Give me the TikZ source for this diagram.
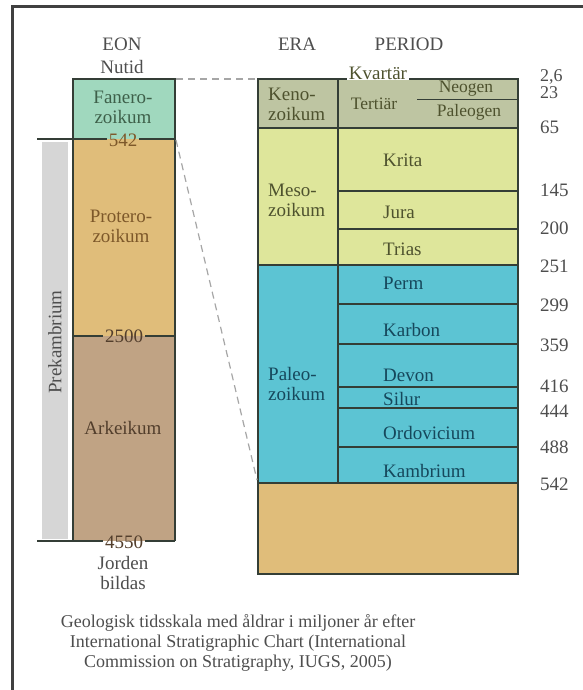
\documentclass[tikz,border=0pt]{standalone}
\usepackage{fontspec}
\setmainfont{Liberation Serif}
\definecolor{fanero}{RGB}{160,216,190}
\definecolor{protero}{RGB}{224,189,122}
\definecolor{arke}{RGB}{192,163,132}
\definecolor{graybar}{RGB}{214,214,214}
\definecolor{keno}{RGB}{190,197,162}
\definecolor{meso}{RGB}{222,230,155}
\definecolor{paleo}{RGB}{92,196,211}
\definecolor{bd}{RGB}{52,62,54}
\definecolor{txt}{RGB}{78,78,78}
\definecolor{tgreen}{RGB}{62,96,74}
\definecolor{tbrown}{RGB}{125,88,42}
\definecolor{tdbrown}{RGB}{82,62,44}
\definecolor{tolive}{RGB}{78,82,46}
\definecolor{tteal}{RGB}{22,72,92}
\definecolor{framec}{RGB}{64,64,64}
\begin{document}
\begin{tikzpicture}[x=1pt,y=-1pt,
  lbl/.style={font=\fontsize{19}{20}\selectfont, text=txt, inner sep=0pt, align=center},
  slbl/.style={font=\fontsize{17.5}{19}\selectfont, text=tolive, inner sep=0pt, align=center},
  num/.style={font=\fontsize{19}{20}\selectfont, text=txt, inner sep=0pt, anchor=west},
  edge/.style={draw=bd, line width=1.6pt},
  thinline/.style={draw=bd, line width=1.1pt},
  dashline/.style={draw=gray!70, line width=1.2pt, dash pattern=on 7pt off 5pt}]
\useasboundingbox (0,0) rectangle (583,690);
\fill[white] (0,0) rectangle (583,690);
% frame
\draw[framec, line width=3pt] (12,690) -- (12,7) -- (583,7);

% ---------- EON column ----------
\fill[fanero] (73,79) rectangle (175,139);
\fill[protero] (73,139) rectangle (175,336);
\fill[arke] (73,336) rectangle (175,541);
\fill[graybar] (42,142) rectangle (68,539);
\draw[edge] (73,541) -- (73,79) -- (175,79) -- (175,541);

\node[lbl] (eon) at (122,44) {EON};
\node[lbl] (nutid) at (122,67) {Nutid};
\node[lbl, text=tgreen] (fanero) at (123,107) {Fanero-\\zoikum};
\node[lbl, text=tbrown] (protero) at (121,226) {Protero-\\zoikum};
\node[lbl, text=tdbrown] (arkeikum) at (123,428) {Arkeikum};
\node[lbl, rotate=90] (prek) at (55,342) {Prekambrium};

\node[lbl, text=tbrown, inner xsep=2pt] (t542) at (123,140) {542};
\node[lbl, text=tdbrown, inner xsep=2pt] (t2500) at (124,336) {2500};
\node[lbl, text=tdbrown, inner xsep=2pt] (t4550) at (124,542) {4550};
\coordinate (l542a) at (37,139);  \coordinate (l542b) at (175,139);
\coordinate (l2500a) at (73,336); \coordinate (l2500b) at (175,336);
\coordinate (l4550a) at (37,541); \coordinate (l4550b) at (175,541);
\draw[edge] (l542a) -- (t542.west |- l542a) (t542.east |- l542b) -- (l542b);
\draw[edge] (l2500a) -- (t2500.west |- l2500a) (t2500.east |- l2500b) -- (l2500b);
\draw[edge] (l4550a) -- (t4550.west |- l4550a) (t4550.east |- l4550b) -- (l4550b);
\node[lbl] (jorden) at (123,573) {Jorden\\bildas};

% ---------- ERA / PERIOD column ----------
\fill[keno] (258,79) rectangle (518,128);
\fill[meso] (258,128) rectangle (518,265);
\fill[paleo] (258,265) rectangle (518,483);
\fill[protero] (258,483) rectangle (518,574);
\draw[edge] (258,79) rectangle (518,574);
\draw[edge] (258,128) -- (518,128);
\draw[edge] (258,265) -- (518,265);
\draw[edge] (258,483) -- (518,483);
\draw[edge] (338,79) -- (338,483);
\foreach \yy in {191,229,304,344,387,408,447} \draw[thinline] (338,\yy) -- (518,\yy);
\draw[draw=bd, line width=0.8pt] (417,99) -- (518,99);

\node[lbl] (era) at (297,44) {ERA};
\node[lbl] (period) at (409,44) {PERIOD};
\node[lbl, fill=white, inner xsep=2pt, inner ysep=1pt, text=tolive] (kvartar) at (378,73) {Kvartär};

\node[lbl, text=tolive, align=left, anchor=west] (keno) at (268,104) {Keno-\\zoikum};
\node[slbl] (tertiar) at (374,104) {Tertiär};
\node[slbl] (neogen) at (466,89) {Neogen};
\node[slbl] (paleogen) at (469,112) {Paleogen};

\node[lbl, text=tolive, align=left, anchor=west] (meso) at (268,200) {Meso-\\zoikum};
\node[lbl, text=tolive, anchor=west] (krita) at (383,160) {Krita};
\node[lbl, text=tolive, anchor=west] (jura) at (383,212) {Jura};
\node[lbl, text=tolive, anchor=west] (trias) at (383,249) {Trias};

\node[lbl, text=tteal, align=left, anchor=west] (paleo) at (268,384) {Paleo-\\zoikum};
\node[lbl, text=tteal, anchor=west] (perm) at (383,283) {Perm};
\node[lbl, text=tteal, anchor=west] (karbon) at (383,330) {Karbon};
\node[lbl, text=tteal, anchor=west] (devon) at (383,375) {Devon};
\node[lbl, text=tteal, anchor=west] (silur) at (383,399) {Silur};
\node[lbl, text=tteal, anchor=west] (ordo) at (383,433) {Ordovicium};
\node[lbl, text=tteal, anchor=west] (kamb) at (383,471) {Kambrium};

% ages
\node[num, font=\fontsize{18}{18}\selectfont] (a26) at (540,77) {2,6};
\node[num, font=\fontsize{18}{18}\selectfont] (a23) at (540,93) {23};
\node[num] (a65) at (540,127) {65};
\node[num] (a145) at (540,190) {145};
\node[num] (a200) at (540,228) {200};
\node[num] (a251) at (540,266) {251};
\node[num] (a299) at (540,305) {299};
\node[num] (a359) at (540,345) {359};
\node[num] (a416) at (540,386) {416};
\node[num] (a444) at (540,411) {444};
\node[num] (a488) at (540,447) {488};
\node[num] (a542) at (540,484) {542};

% dashed connectors
\coordinate (eonTop) at (176,79);
\coordinate (perTop) at (257,79);
\coordinate (eon542) at (176,140);
\coordinate (per542) at (257,480);
\draw[dashline] (eonTop) -- (perTop);
\draw[dashline] (eon542) -- (per542);

% caption
\node[lbl, font=\fontsize{18}{20}\selectfont] (caption) at (238,643)
  {Geologisk tidsskala med åldrar i miljoner år efter\\International Stratigraphic Chart (International\\Commission on Stratigraphy, IUGS, 2005)};
\end{tikzpicture}
\end{document}
